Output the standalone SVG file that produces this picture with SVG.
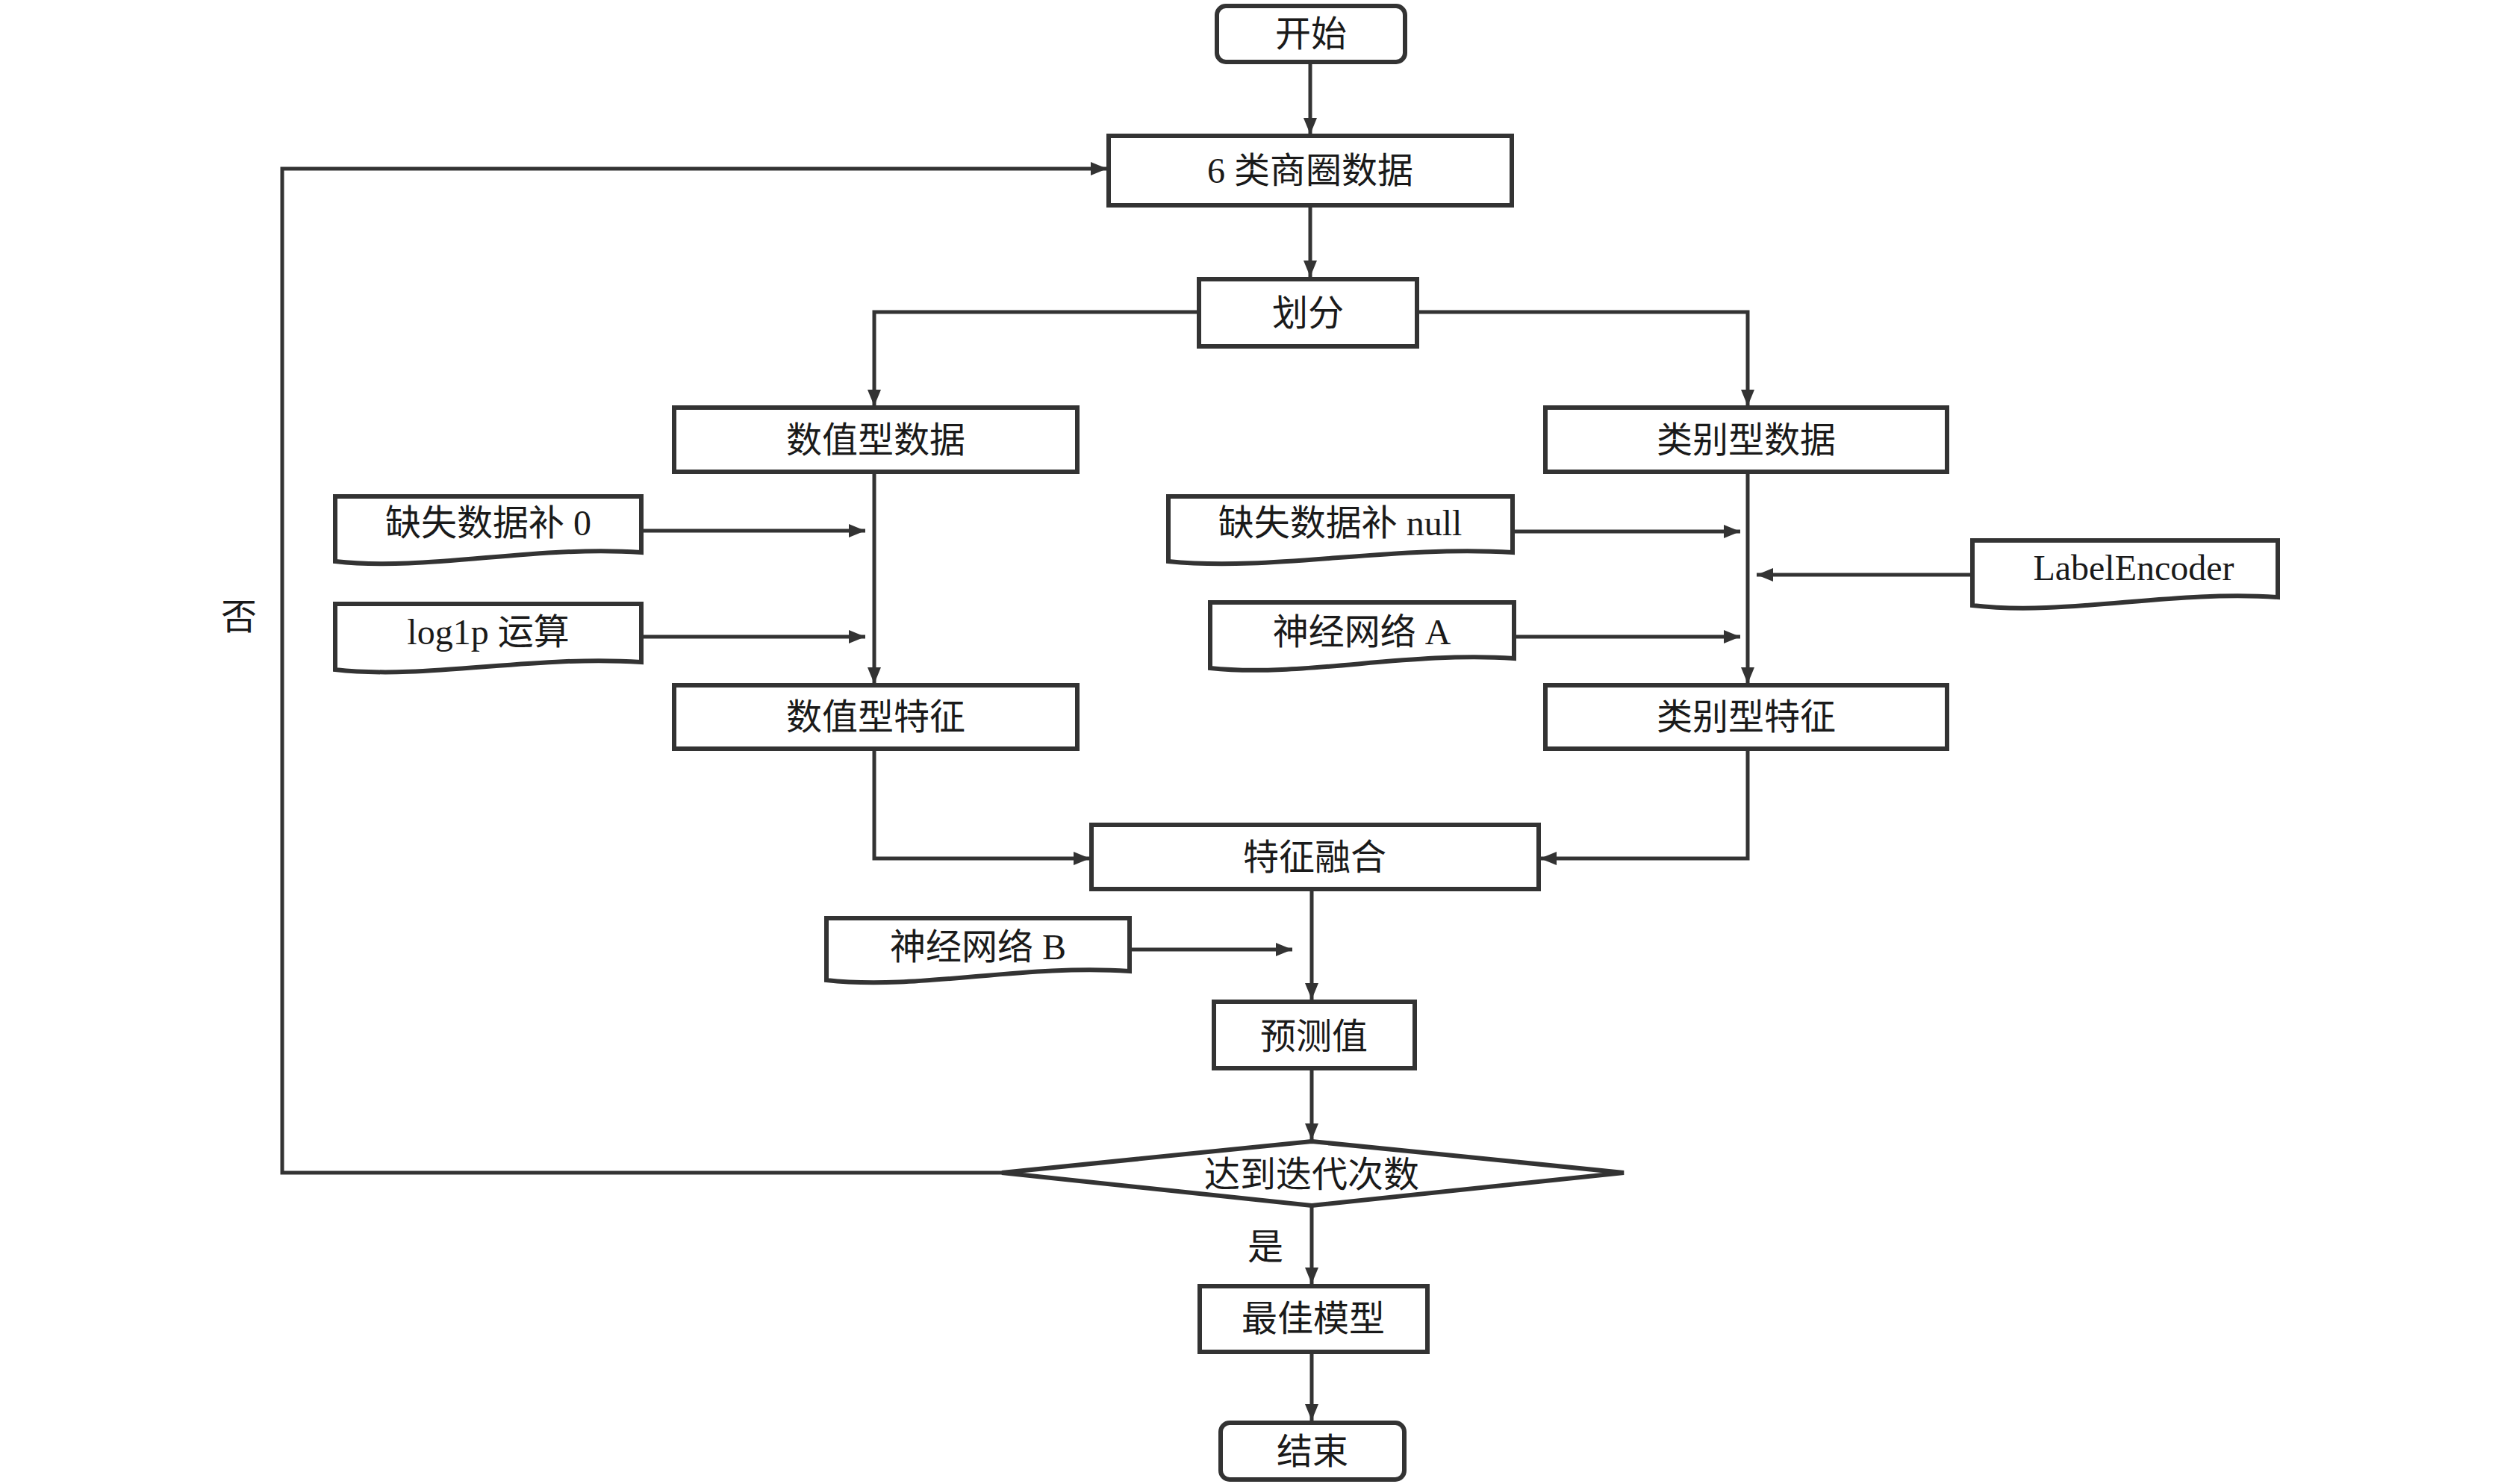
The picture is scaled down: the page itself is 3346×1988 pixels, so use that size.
<svg xmlns="http://www.w3.org/2000/svg" width="3346" height="1988" viewBox="0 0 3346 1988">
<defs>
<marker id="arr" markerUnits="userSpaceOnUse" markerWidth="24" markerHeight="20" refX="22" refY="10" orient="auto">
<path d="M0,1 L22,10 L0,19 Z" fill="#333"/>
</marker>
<style>
.box{fill:#fff;stroke:#333;stroke-width:6}
.doc{fill:#fff;stroke:#333;stroke-width:6;stroke-linejoin:miter}
.ln{fill:none;stroke:#333;stroke-width:5}
.la{fill:none;stroke:#333;stroke-width:5;marker-end:url(#arr)}
text{font-family:"Liberation Serif","Noto Sans CJK SC",serif;font-size:48px;fill:#1a1a1a;text-anchor:middle;dominant-baseline:central}
</style>
</defs>
<rect width="3346" height="1988" fill="#fff"/>
<g id="connectors">
<path class="la" d="M1755,83 V180"/>
<path class="la" d="M1755,275 V371"/>
<path class="la" d="M1606,418 H1171 V544"/>
<path class="la" d="M1898,418 H2341 V544"/>
<path class="la" d="M1171,632 V916"/>
<path class="la" d="M2341,632 V916"/>
<path class="la" d="M1171,1003 V1150 H1460"/>
<path class="la" d="M2341,1003 V1150 H2063"/>
<path class="la" d="M1757,1191 V1339"/>
<path class="la" d="M1757,1431 V1527"/>
<path class="la" d="M1757,1615 V1720"/>
<path class="la" d="M1757,1812 V1903"/>
<path class="la" d="M1342,1571 H378 V226 H1483"/>
<path class="la" d="M859,711 H1159"/>
<path class="la" d="M859,853 H1159"/>
<path class="la" d="M2026,712 H2331"/>
<path class="la" d="M2028,853 H2331"/>
<path class="la" d="M2642,770 H2353"/>
<path class="la" d="M1513,1272 H1731"/>
<text x="320" y="826">否</text>
<text x="1695" y="1670">是</text>
</g>
<g id="start"><rect class="box" x="1630" y="8" width="252" height="75" rx="12"/><text x="1756" y="45">开始</text></g>
<g id="data6"><rect class="box" x="1485" y="182" width="540" height="93"/><text x="1755" y="228">6 类商圈数据</text></g>
<g id="split"><rect class="box" x="1606" y="374" width="292" height="90"/><text x="1752" y="419">划分</text></g>
<g id="numdata"><rect class="box" x="903" y="546" width="540" height="86"/><text x="1173" y="589">数值型数据</text></g>
<g id="catdata"><rect class="box" x="2070" y="546" width="538" height="86"/><text x="2339" y="589">类别型数据</text></g>
<g id="fill0"><path class="doc" d="M449,665 H859 V740 C715,730 572,766 449,752 Z"/><text x="654" y="700">缺失数据补 0</text></g>
<g id="log1p"><path class="doc" d="M449,809 H859 V887 C715,877 572,911 449,897 Z"/><text x="654" y="846">log1p 运算</text></g>
<g id="fillnull"><path class="doc" d="M1565,665 H2026 V740 C1865,730 1703,766 1565,752 Z"/><text x="1795" y="700">缺失数据补 null</text></g>
<g id="nnA"><path class="doc" d="M1621,807 H2028 V882 C1885,872 1743,908 1621,895 Z"/><text x="1824" y="846">神经网络 A</text></g>
<g id="labelenc"><path class="doc" d="M2642,724 H3051 V800 C2908,790 2765,826 2642,811 Z"/><text x="2858" y="760">LabelEncoder</text></g>
<g id="numfeat"><rect class="box" x="903" y="918" width="540" height="85"/><text x="1173" y="960">数值型特征</text></g>
<g id="catfeat"><rect class="box" x="2070" y="918" width="538" height="85"/><text x="2339" y="960">类别型特征</text></g>
<g id="fusion"><rect class="box" x="1462" y="1105" width="599" height="86"/><text x="1761" y="1148">特征融合</text></g>
<g id="nnB"><path class="doc" d="M1107,1230 H1513 V1301 C1371,1291 1229,1327 1107,1313 Z"/><text x="1310" y="1268">神经网络 B</text></g>
<g id="pred"><rect class="box" x="1626" y="1342" width="269" height="89"/><text x="1760" y="1388">预测值</text></g>
<g id="decide"><path class="box" d="M1757,1529 L2175,1571 L1757,1615 L1342,1571 Z"/><text x="1757" y="1573">达到迭代次数</text></g>
<g id="best"><rect class="box" x="1607" y="1723" width="305" height="88"/><text x="1759" y="1766">最佳模型</text></g>
<g id="end"><rect class="box" x="1635" y="1906" width="246" height="76" rx="12"/><text x="1758" y="1944">结束</text></g>
</svg>
